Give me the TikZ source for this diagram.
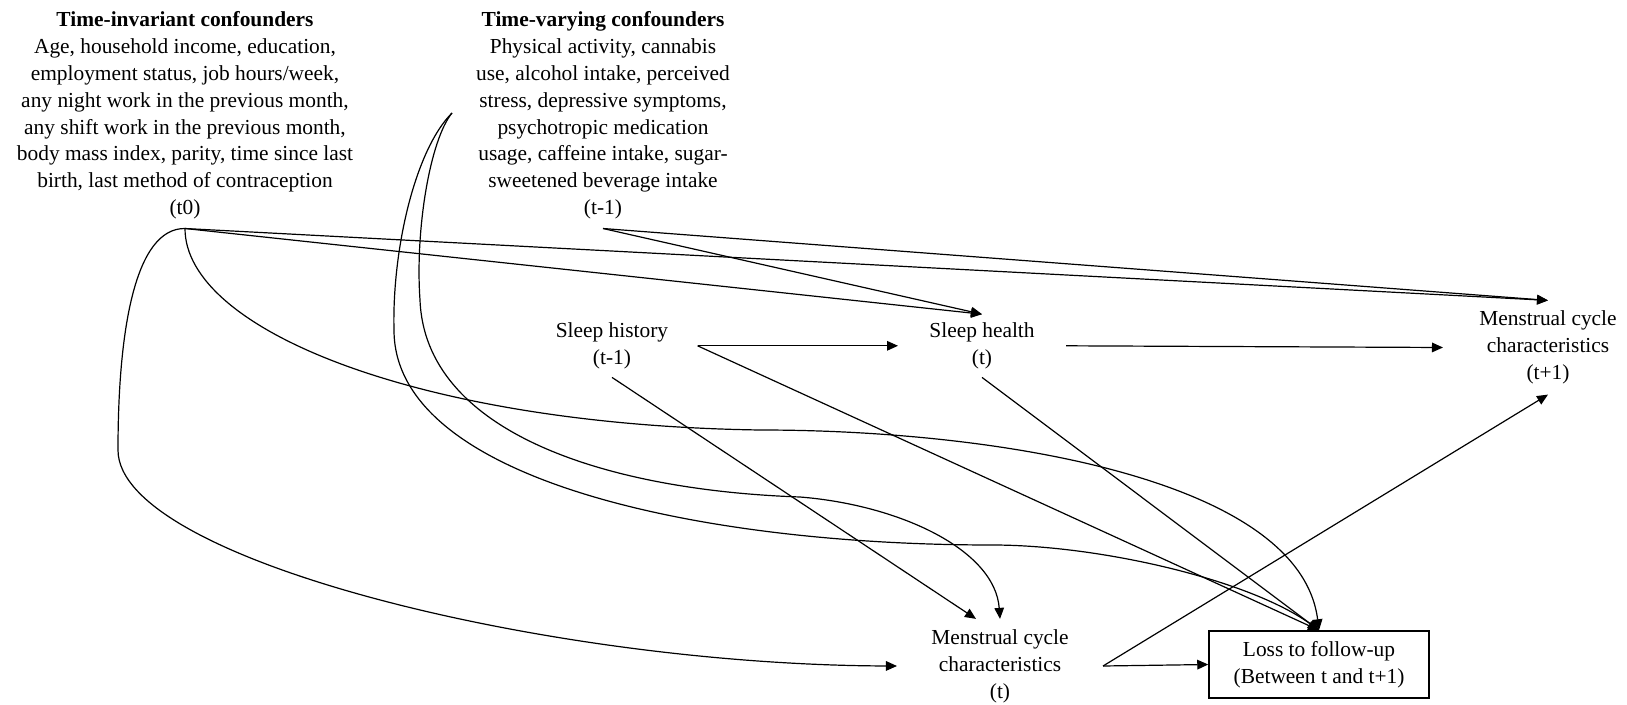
\documentclass[tikz,border=0pt]{standalone}
\usepackage{fontspec}
\setmainfont{Liberation Serif}
\usetikzlibrary{arrows.meta}
\tikzset{
  dagvar/.style={
    align=center, inner xsep=3pt, inner ysep=4pt,
    font=\fontsize{10.7}{13.5}\selectfont
  },
  dagconf/.style={dagvar, inner ysep=4.5pt, font=\fontsize{10.7}{13.4}\selectfont},
  dagbox/.style={
    dagvar, draw=black, line width=0.75pt,
    minimum width=110pt, minimum height=33.5pt
  },
  dagedge/.style={-{Triangle[length=5.5pt,width=4.8pt]},line width=0.6pt}
}

\begin{document}
\begin{tikzpicture}[x=0.5pt,y=-0.5pt]
  \useasboundingbox (0,0) rectangle (1627,705);
  % confounder blocks
  \node[dagconf] (ti) at (185,115.5) {\textbf{Time-invariant confounders}\\
    Age, household income, education,\\
    employment status, job hours/week,\\
    any night work in the previous month,\\
    any shift work in the previous month,\\
    body mass index, parity, time since last\\
    birth, last method of contraception\\
    (t0)};
  \node[dagconf] (tv) at (603,115.5) {\textbf{Time-varying confounders}\\
    Physical activity, cannabis\\
    use, alcohol intake, perceived\\
    stress, depressive symptoms,\\
    psychotropic medication\\
    usage, caffeine intake, sugar-\\
    sweetened beverage intake\\
    (t-1)};
  \coordinate (tvside) at (452,113);
  % exposure, outcome, censoring
  \node[dagvar,inner xsep=14.5pt] (sh) at (612,345.8) {Sleep history\\(t-1)};
  \node[dagvar,inner xsep=15.5pt] (shealth) at (982,345.8) {Sleep health\\(t)};
  \node[dagvar,inner xsep=18pt,inner ysep=5pt] (mc1) at (1548,347.5) {Menstrual cycle\\characteristics\\(t+1)};
  \node[dagvar,inner xsep=17pt,inner ysep=5pt] (mc0) at (1000,666) {Menstrual cycle\\characteristics\\(t)};
  \node[dagbox] (loss) at (1319,664.5) {Loss to follow-up\\(Between t and t+1)};
  % straight arrows
  \draw[dagedge] (ti.south) -- (shealth.north);
  \draw[dagedge] (ti.south) -- (mc1.north);
  \draw[dagedge] (tv.south) -- (shealth.north);
  \draw[dagedge] (tv.south) -- (mc1.north);
  \draw[dagedge] (sh.east) -- (shealth.west);
  \draw[dagedge] (shealth.east) -- (mc1.west);
  \draw[dagedge] (sh.south) -- ([xshift=-12pt]mc0.north);
  \draw[dagedge] (sh.east) -- (loss.north);
  \draw[dagedge] (shealth.south) -- (loss.north);
  \draw[dagedge] (mc0.east) -- (loss.west);
  \draw[dagedge] (mc0.east) -- (mc1.south);
  % curved arrows
  \draw[dagedge] (ti.south) .. controls (185,330) and (420,425) .. (760,430)
    .. controls (1000,430) and (1300,480) .. (loss.north);
  \draw[dagedge] (ti.south) .. controls (135,228) and (118,330) .. (118,450)
    .. controls (118,560) and (550,665) .. (mc0.west);
  \draw[dagedge] (tvside) .. controls (415,150) and (392,250) .. (394,330)
    .. controls (394,480) and (700,545) .. (992,545)
    .. controls (1100,545) and (1250,580) .. (loss.north);
  \draw[dagedge] (tvside) .. controls (430,140) and (415,230) .. (420,300)
    .. controls (425,430) and (600,490) .. (800,497)
    .. controls (900,505) and (995,550) .. (mc0.north);
\end{tikzpicture}
\end{document}
